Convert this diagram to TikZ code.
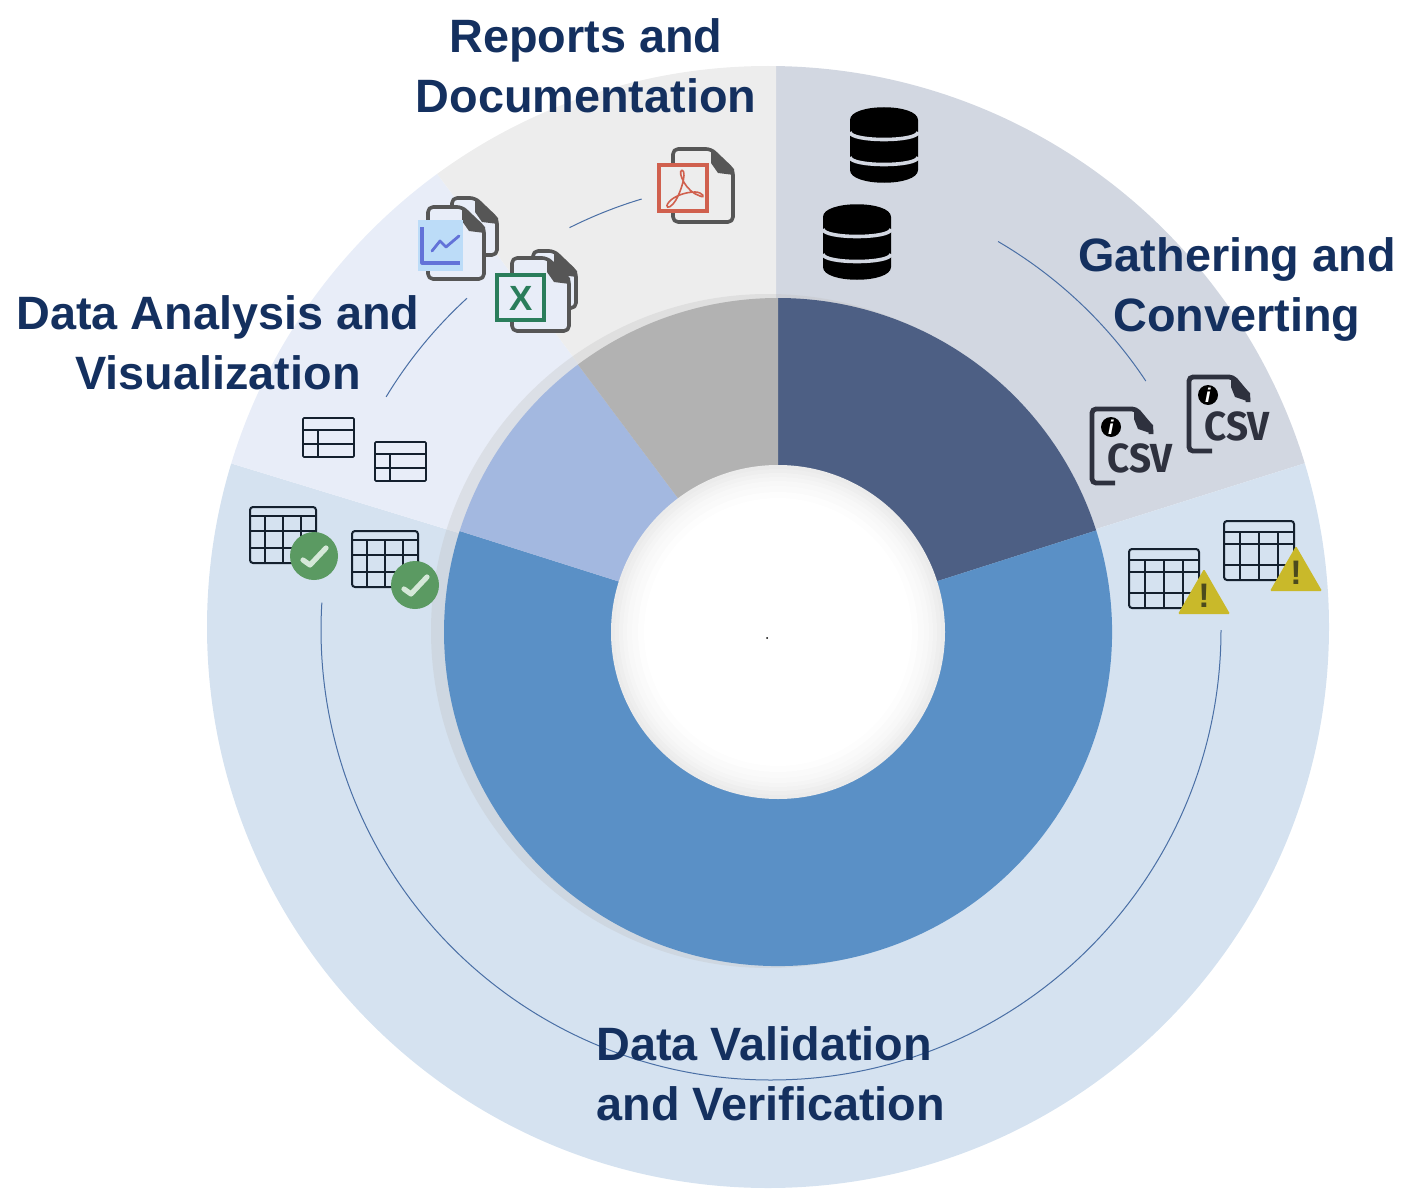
\documentclass[tikz,border=0pt]{standalone}
\usepackage{fontspec}
\usepackage{graphicx}
\usetikzlibrary{calc}
\setmainfont{Liberation Sans}
\newfontfamily\csvfont{Fira Sans}

\definecolor{gatherring}{HTML}{D2D7E1}
\definecolor{validring}{HTML}{D5E2F0}
\definecolor{analysisring}{HTML}{E8EDF8}
\definecolor{reportring}{HTML}{EDEDED}
\definecolor{gatherpart}{HTML}{4D5F84}
\definecolor{validpart}{HTML}{5A90C6}
\definecolor{analysispart}{HTML}{A3B8E0}
\definecolor{reportpart}{HTML}{B2B2B2}
\definecolor{titleblue}{HTML}{14305F}
\definecolor{arcblue}{HTML}{4A6FA5}
\definecolor{csvgrey}{HTML}{2E313E}
\definecolor{tableink}{HTML}{14202E}
\definecolor{pagegrey}{HTML}{565656}
\definecolor{warnyellow}{HTML}{C9B92A}
\definecolor{warnink}{HTML}{4B4A1E}
\definecolor{okgreen}{HTML}{5B9A62}
\definecolor{oktick}{HTML}{D5E8D8}
\definecolor{chartsquare}{HTML}{BCDCF8}
\definecolor{chartink}{HTML}{6272D8}
\definecolor{excelgreen}{HTML}{2A7D5B}
\definecolor{pdfred}{HTML}{D0604E}

\tikzset{
  title/.style={text=titleblue,font=\fontsize{23.4}{30}\selectfont\bfseries,inner sep=0pt},
  flowarc/.style={arcblue,line width=0.5pt},
  tableline/.style={tableink,line width=1pt,rounded corners=1.5pt},
  smalltable/.style={tableink,line width=0.8pt,rounded corners=0.5pt},
  pageline/.style={pagegrey,line width=1.8pt,rounded corners=2.5pt,line join=round},
  csvline/.style={csvgrey,line width=2.4pt,rounded corners=2pt}
}

\newcommand{\dbicon}[2]{
\begin{scope}[shift={(#1,#2)}]
  \fill[black] (0,13) .. controls (0,-4) and (68,-4) .. (68,13) -- (68,63)
    .. controls (68,80) and (0,80) .. (0,63) -- cycle;
  \foreach \y in {25,50}
    \draw[gatherring,line width=1.8pt] (0,\y) .. controls (0,\y+10) and (68,\y+10) .. (68,\y);
\end{scope}}

\newcommand{\csvicon}[3]{
\begin{scope}[shift={(#1,#2)}]
  \draw[csvline] (25,76) -- (2,76) -- (2,2) -- (46,2) -- (61,20) -- (61,27);
  \fill[csvgrey] (44,1) -- (63,18) -- (63,27) -- (48,22) -- (44,12) -- cycle;
  \fill[black] (21,20) circle (10);
  \node[text=white,inner sep=0pt,font=\fontsize{10}{10}\selectfont\bfseries\itshape] (#3info) at (21,20) {i};
  \node[text=csvgrey,inner sep=0pt,font=\csvfont\fontsize{20.3}{20}\selectfont\bfseries] (#3text) at (50,51) {\scalebox{.95}[1]{CSV}};
\end{scope}}

\newcommand{\gridtable}[7]{
\begin{scope}[shift={(#1,#2)}]
  \draw[tableline] (0,0) rectangle (#3,#4);
  \draw[tableink,line width=1pt] (0,#5) -- (#3,#5) (0,#6) -- (#3,#6) (0,#7) -- (#3,#7);
  \foreach \f in {.23,.5,.77}
    \draw[tableink,line width=1pt] (\f*#3,#5) -- (\f*#3,#4);
\end{scope}}

\newcommand{\warnsign}[3]{
\begin{scope}[shift={(#1,#2)}]
  \fill[warnyellow,rounded corners=0.6pt] (0,0) -- (26,45) -- (-26,45) -- cycle;
  \node[text=warnink,inner sep=0pt,font=\fontsize{17}{17}\selectfont\bfseries] (#3) at (0,27) {!};
\end{scope}}

\newcommand{\oksign}[2]{
\begin{scope}[shift={(#1,#2)}]
  \fill[okgreen] (0,0) circle (24);
  \draw[oktick,line width=2.6pt,line cap=round,line join=round] (-11,4) -- (-4,9) -- (12,-8);
\end{scope}}

\newcommand{\smallgrid}[2]{
\begin{scope}[shift={(#1,#2)}]
  \draw[smalltable] (0,0) rectangle (51,39);
  \draw[tableink,line width=0.8pt] (0,12) -- (51,12) (0,26) -- (51,26) (15,12) -- (15,39);
\end{scope}}

\newcommand{\docpage}[5]{
  \draw[pageline,fill=#5] (#1,#2) -- (#3-22,#2) -- (#3,#2+21) -- (#3,#4) -- (#1,#4) -- cycle;
  \fill[pagegrey] (#3-22,#2) -- (#3+1,#2+20) -- (#3+1,#2+26) -- (#3-15,#2+24) -- (#3-22,#2+14) -- cycle;
}

\begin{document}
\begin{tikzpicture}[x=0.5pt,y=-0.5pt]
\useasboundingbox (0,0) rectangle (1403,1204);

\begin{scope}
  \clip (768,627) circle (561);
  \foreach \a/\b/\c in {-90/-17.5/gatherring, -17.5/197/validring, 197/233.4/analysisring, 233.4/270/reportring}
    \fill[\c,shift={(776,630)}] (0,0) -- (\a:1000) arc[start angle=\a,end angle=\b,radius=1000] -- cycle;
\end{scope}

\fill[black!25,opacity=.3] (768,631) circle (337);
\foreach \a/\b/\c in {-90/-17.7/gatherpart, -17.7/197.6/validpart, 197.6/233.2/analysispart, 233.2/270/reportpart}
  \fill[\c,shift={(778,632)}] (0,0) -- (\a:334) arc[start angle=\a,end angle=\b,radius=334] -- cycle;
\foreach \r/\g in {167/92, 163/93.5, 159/95, 155/96, 151/97.2, 146/98.2, 140/99.2, 134/100}
  \fill[white!\g!black] (778,632) circle (\r);
\fill[black] (767,638) circle (1);

\foreach \a/\b in {0/183.5, -59.7/-33.6, 211.2/227.5, 243.4/253.3}
  \draw[flowarc,shift={(771,630)}] (\a:450) arc[start angle=\a,end angle=\b,radius=450];

\dbicon{850}{107}
\dbicon{823}{204}

\csvicon{1187}{375}{csvb}
\csvicon{1090}{407}{csva}

\gridtable{1224}{521}{70}{59}{11}{23}{44}
\warnsign{1296}{546}{warnb}
\gridtable{1129}{549}{70}{59}{11}{23}{44}
\warnsign{1204}{569}{warna}

\gridtable{250}{507}{66}{56}{9}{24}{41}
\oksign{314}{556}
\gridtable{352}{531}{66}{56}{9}{24}{41}
\oksign{415}{585}

\smallgrid{303}{418}
\smallgrid{375}{442}

% chart file
\docpage{452}{198}{497}{255}{analysisring}
\docpage{428}{207}{484}{279}{analysisring}
\fill[chartsquare] (418,220) rectangle (463,271);
\draw[chartink,line width=1.6pt,line join=round] (422,227) -- (422,263) -- (460,263);
\draw[chartink,line width=1.4pt,line join=round,line cap=round] (432,251) -- (440,241) -- (446,247) -- (459,236);

% excel file
\docpage{533}{251}{576}{308}{analysisring}
\docpage{512}{258}{569}{331}{analysisring}
\draw[excelgreen,line width=1.8pt,fill=analysisring] (497,275) rectangle (544,320);
\node[text=excelgreen,inner sep=0pt,font=\fontsize{17.5}{18}\selectfont\bfseries] (excelx) at (521,298) {X};

% pdf file
\docpage{673}{149}{733}{222}{reportring}
\draw[pdfred,line width=2.3pt,fill=reportring] (659,165) rectangle (707,211);
\draw[pdfred,line width=0.8pt] (682,170) .. controls (677,172) and (686,192) .. (700,196)
  .. controls (706,199) and (703,192) .. (695,192) .. controls (684,192) and (673,197) .. (669,202)
  .. controls (664,208) and (669,209) .. (673,204) .. controls (679,198) and (688,172) .. (682,170);

\node[title,align=center] (reports) at (586,66) {Reports and\\Documentation};
\node[title,align=center] (gathering) at (1237,290) {Gathering and\\Converting};
\node[title,align=center] (analysis) at (218,343) {Data Analysis and\\Visualization};
\node[title,align=left,anchor=west] (validation) at (596,1074) {Data Validation\\and Verification};
\end{tikzpicture}
\end{document}
